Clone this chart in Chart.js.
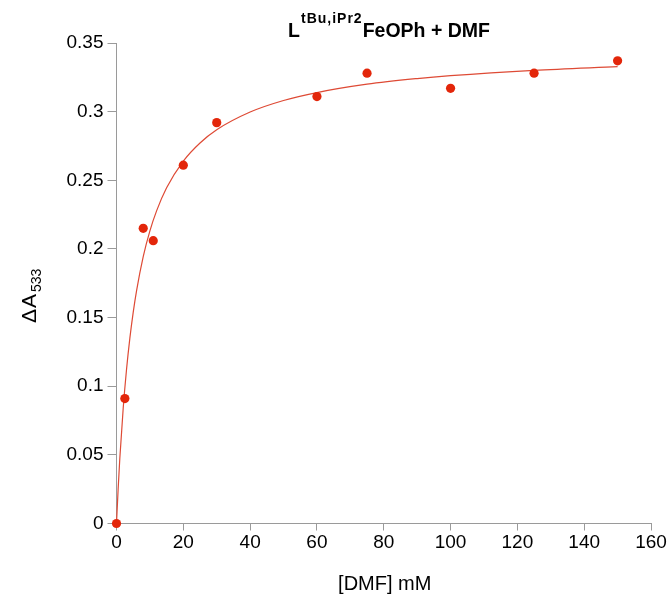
<!DOCTYPE html>
<html>
<head>
<meta charset="utf-8">
<script src="https://cdn.jsdelivr.net/npm/chart.js@4/dist/chart.umd.min.js"></script>
<style>
  html, body { margin: 0; padding: 0; background: #ffffff; }
  #wrap { width: 672px; height: 597px; position: relative; }
</style>
</head>
<body>
<div id="wrap"><canvas id="c" width="672" height="597"></canvas></div>
<script>
// Measured data points
const dmfConc = [0, 2.5, 8, 11, 20, 30, 60, 75, 100, 125, 150];
const deltaA  = [0, 0.091, 0.215, 0.206, 0.261, 0.292, 0.311, 0.328, 0.317, 0.328, 0.337];

// Fitted curve
const fitX = [0, 0.5, 1, 2, 3, 4, 5, 6, 8, 10, 12, 15, 20, 25, 30, 40, 50, 60, 75, 90, 100, 125, 150];
const fitY = [0, 0.0256, 0.0477, 0.0838, 0.1122, 0.1350, 0.1538, 0.1695, 0.1944, 0.2131, 0.2277, 0.2445,
              0.2640, 0.2772, 0.2868, 0.2997, 0.3081, 0.3139, 0.3200, 0.3241, 0.3262, 0.3301, 0.3328];

// Tick labels
const xTickLabels = ['0', '20', '40', '60', '80', '100', '120', '140', '160'];
const yTickLabels = ['0', '0.05', '0.1', '0.15', '0.2', '0.25', '0.3', '0.35'];

// Text
const titleMain = 'L';
const titleSup = 'tBu,iPr2';
const titleRest = 'FeOPh + DMF';
const xTitle = '[DMF] mM';
const yTitleMain = '\u0394A';
const yTitleSub = '533';

const FONT = '"Liberation Sans", Arial, Helvetica, sans-serif';

const textPlugin = {
  id: 'textPlugin',
  afterDraw(chart) {
    const ctx = chart.ctx;
    const area = chart.chartArea;
    ctx.save();
    ctx.fillStyle = '#000';
    ctx.textBaseline = 'alphabetic';
    ctx.textAlign = 'left';

    // Title with superscript
    ctx.font = 'bold 19.5px ' + FONT;
    const wL = ctx.measureText(titleMain).width;
    const wR = ctx.measureText(titleRest).width;
    ctx.font = 'bold 14px ' + FONT;
    ctx.letterSpacing = '1px';
    const wS = ctx.measureText(titleSup).width;
    ctx.letterSpacing = '0px';
    const total = wL + 1 + wS + wR;
    let x = 389 - total / 2;
    const base = 36.5;
    ctx.font = 'bold 19.5px ' + FONT;
    ctx.fillText(titleMain, x, base);
    x += wL + 1;
    ctx.font = 'bold 14px ' + FONT;
    ctx.letterSpacing = '1px';
    ctx.fillText(titleSup, x, base - 14);
    ctx.letterSpacing = '0px';
    x += wS;
    ctx.font = 'bold 19.5px ' + FONT;
    ctx.fillText(titleRest, x, base);

    // X axis title
    ctx.font = '20px ' + FONT;
    ctx.textAlign = 'center';
    ctx.fillText(xTitle, (area.left + area.right) / 2 + 1, 589.5);

    // Y axis title with subscript (rotated)
    ctx.textAlign = 'left';
    ctx.translate(36, 323);
    ctx.rotate(-Math.PI / 2);
    ctx.font = '21px ' + FONT;
    ctx.letterSpacing = '1px';
    const wA = ctx.measureText(yTitleMain).width;
    ctx.fillText(yTitleMain, 0, 0);
    ctx.letterSpacing = '0px';
    ctx.font = '14px ' + FONT;
    ctx.fillText(yTitleSub, wA + 1, 5);
    ctx.restore();
  }
};

const axisColor = '#9a9a9a';

new Chart(document.getElementById('c'), {
  type: 'scatter',
  data: {
    datasets: [
      {
        label: 'data',
        data: dmfConc.map((v, i) => ({ x: v, y: deltaA[i] })),
        backgroundColor: '#e3260a',
        borderWidth: 0,
        pointRadius: 4.6,
        pointHoverRadius: 4.6,
        clip: false
      },
      {
        label: 'fit',
        data: fitX.map((v, i) => ({ x: v, y: fitY[i] })),
        showLine: true,
        borderColor: '#de4a35',
        borderWidth: 1.2,
        pointRadius: 0,
        cubicInterpolationMode: 'monotone',
        fill: false,
        clip: false
      }
    ]
  },
  options: {
    responsive: false,
    animation: false,
    events: [],
    layout: { padding: { left: 0, top: 43, right: 21, bottom: 0 } },
    plugins: {
      legend: { display: false },
      title: { display: false },
      tooltip: { enabled: false }
    },
    scales: {
      x: {
        type: 'linear',
        min: 0, max: 160,
        afterBuildTicks(scale) {
          scale.ticks = xTickLabels.map(v => ({ value: Number(v) }));
        },
        ticks: {
          callback: (v, i) => xTickLabels[i],
          color: '#000',
          font: { family: FONT, size: 19 },
          padding: 1,
          maxRotation: 0,
          autoSkip: false
        },
        grid: { drawOnChartArea: false, drawTicks: true, tickLength: 7, color: axisColor },
        border: { display: true, color: axisColor, width: 1 },
        afterFit(scale) { scale.height = 73.5; }
      },
      y: {
        type: 'linear',
        min: 0, max: 0.35,
        afterBuildTicks(scale) {
          scale.ticks = yTickLabels.map(v => ({ value: Number(v) }));
        },
        ticks: {
          callback: (v, i) => yTickLabels[i],
          color: '#000',
          font: { family: FONT, size: 19 },
          padding: 4,
          autoSkip: false
        },
        grid: { drawOnChartArea: false, drawTicks: true, tickLength: 9, color: axisColor },
        border: { display: true, color: axisColor, width: 1 },
        afterFit(scale) { scale.height; scale.width = 116.5; }
      }
    }
  },
  plugins: [textPlugin]
});
</script>
</body>
</html>
